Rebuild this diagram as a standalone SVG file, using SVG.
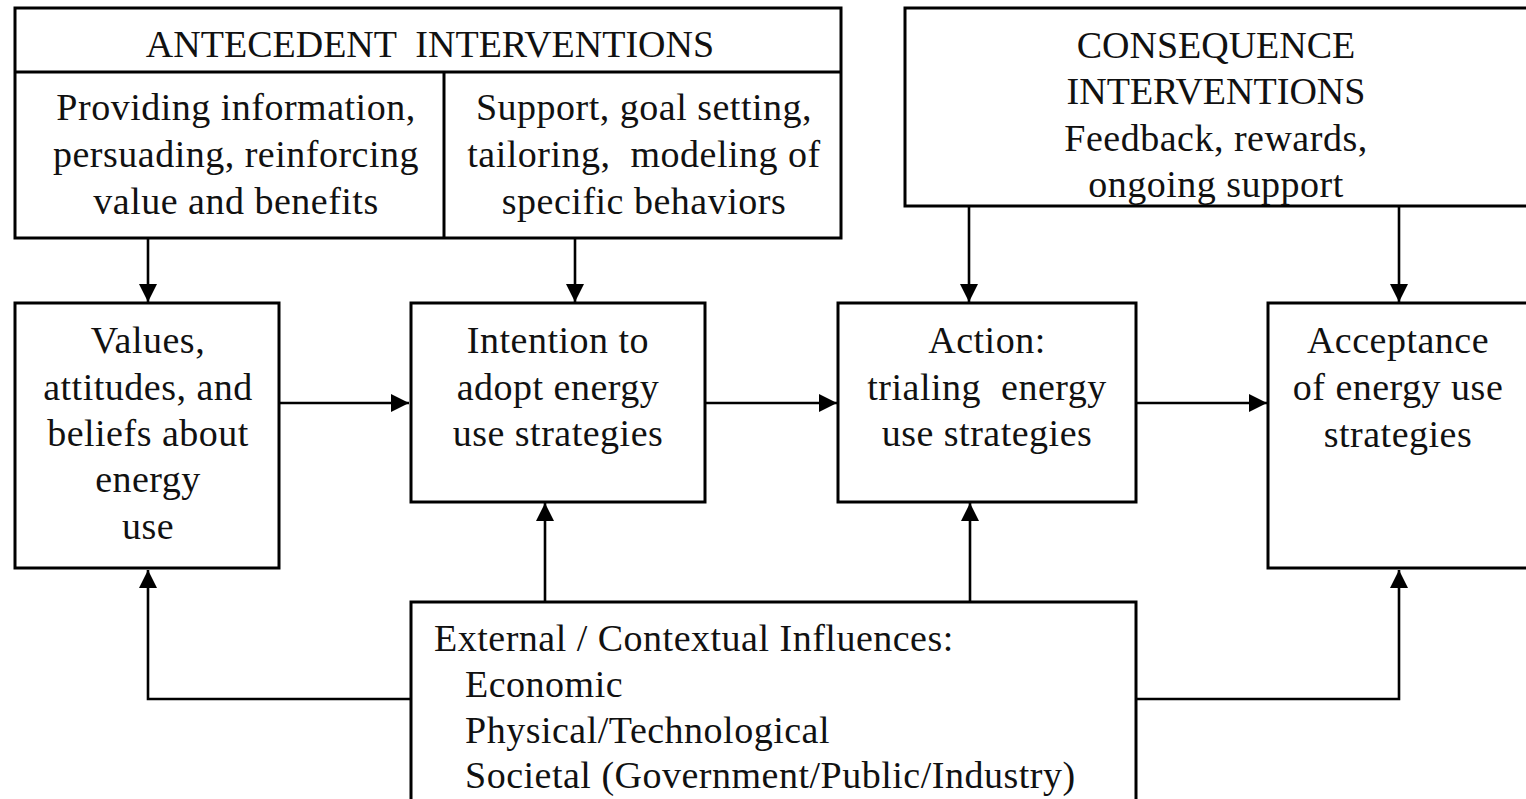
<svg xmlns="http://www.w3.org/2000/svg" width="1526" height="799" viewBox="0 0 1526 799">
<defs>
<marker id="ah" viewBox="0 0 18 18" refX="18" refY="9" markerWidth="18" markerHeight="18" markerUnits="userSpaceOnUse" orient="auto">
<path d="M0,0 L18,9 L0,18 Z" fill="#000"/>
</marker>
<style>
.box{fill:#fff;stroke:#000;stroke-width:3}
.ln{fill:none;stroke:#000;stroke-width:2.6}
.t{font-family:"Liberation Serif","Times New Roman",serif;font-size:38px;letter-spacing:0.5px;fill:#111}
.c{text-anchor:middle}
.h{letter-spacing:0}
</style>
</defs>
<g id="connectors">
<path class="ln" d="M148,238 V302" marker-end="url(#ah)"/>
<path class="ln" d="M575,238 V302" marker-end="url(#ah)"/>
<path class="ln" d="M969,206 V302" marker-end="url(#ah)"/>
<path class="ln" d="M1399,206 V302" marker-end="url(#ah)"/>
<path class="ln" d="M279,403 H409" marker-end="url(#ah)"/>
<path class="ln" d="M705,403 H837" marker-end="url(#ah)"/>
<path class="ln" d="M1136,403 H1267" marker-end="url(#ah)"/>
<path class="ln" d="M412,699 H148 V570" marker-end="url(#ah)"/>
<path class="ln" d="M1136,699 H1399 V570" marker-end="url(#ah)"/>
<path class="ln" d="M545,602 V503" marker-end="url(#ah)"/>
<path class="ln" d="M970,602 V503" marker-end="url(#ah)"/>
</g>
<g id="antecedent">
<rect class="box" x="15" y="8" width="826" height="230"/>
<line class="ln" x1="15" y1="72" x2="841" y2="72" style="stroke-width:3"/>
<line class="ln" x1="444" y1="72" x2="444" y2="238" style="stroke-width:3"/>
<text class="t c h" x="430" y="57" xml:space="preserve">ANTECEDENT  INTERVENTIONS</text>
<text class="t c" x="236" y="120">Providing information,</text>
<text class="t c" x="236" y="167">persuading, reinforcing</text>
<text class="t c" x="236" y="214">value and benefits</text>
<text class="t c" x="644" y="120">Support, goal setting,</text>
<text class="t c" x="644" y="167" xml:space="preserve">tailoring,  modeling of</text>
<text class="t c" x="644" y="214">specific behaviors</text>
</g>
<g id="consequence">
<rect class="box" x="905" y="8" width="640" height="198"/>
<text class="t c h" x="1216" y="58">CONSEQUENCE</text>
<text class="t c h" x="1216" y="104">INTERVENTIONS</text>
<text class="t c" x="1216" y="151">Feedback, rewards,</text>
<text class="t c" x="1216" y="197">ongoing support</text>
</g>
<g id="values">
<rect class="box" x="15" y="303" width="264" height="265"/>
<text class="t c" x="148" y="353">Values,</text>
<text class="t c" x="148" y="400">attitudes, and</text>
<text class="t c" x="148" y="446">beliefs about</text>
<text class="t c" x="148" y="492">energy</text>
<text class="t c" x="148" y="539">use</text>
</g>
<g id="intention">
<rect class="box" x="411" y="303" width="294" height="199"/>
<text class="t c" x="558" y="353">Intention to</text>
<text class="t c" x="558" y="400">adopt energy</text>
<text class="t c" x="558" y="446">use strategies</text>
</g>
<g id="action">
<rect class="box" x="838" y="303" width="298" height="199"/>
<text class="t c" x="987" y="353">Action:</text>
<text class="t c" x="987" y="400" xml:space="preserve">trialing  energy</text>
<text class="t c" x="987" y="446">use strategies</text>
</g>
<g id="acceptance">
<rect class="box" x="1268" y="303" width="280" height="265"/>
<text class="t c" x="1398" y="353">Acceptance</text>
<text class="t c" x="1398" y="400">of energy use</text>
<text class="t c" x="1398" y="447">strategies</text>
</g>
<g id="external">
<rect class="box" x="411" y="602" width="725" height="210"/>
<text class="t" x="434" y="651">External / Contextual Influences:</text>
<text class="t" x="465" y="697">Economic</text>
<text class="t" x="465" y="743">Physical/Technological</text>
<text class="t" x="465" y="788">Societal (Government/Public/Industry)</text>
</g>
</svg>
